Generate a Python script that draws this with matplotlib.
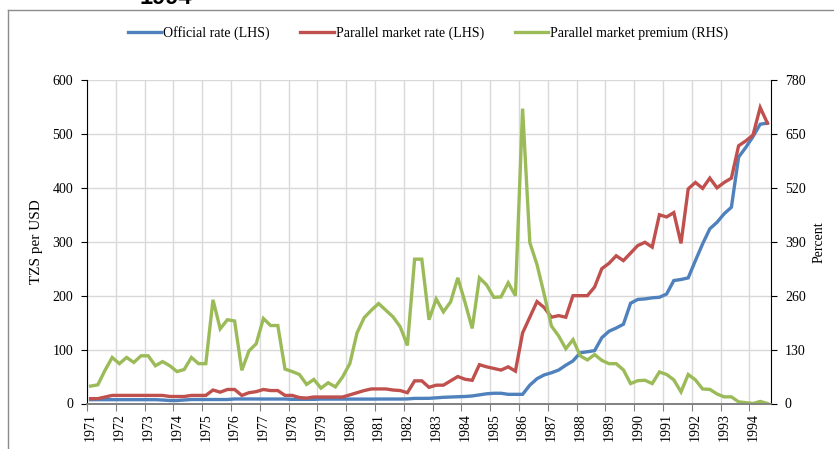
import matplotlib
matplotlib.use("Agg")
import matplotlib.pyplot as plt
from matplotlib.lines import Line2D
import numpy as np

# quarterly data, 1971Q1 - 1994Q3
years = list(range(1971, 1995))

official = [7.1, 7.1, 7.1, 7.1, 7.1, 7.1, 7.1, 7.1, 7.1, 7.1,
            6.5, 5.5, 5.5, 6.5, 7.4, 7.4, 7.4, 7.4, 7.4, 7.4,
            8.4, 8.4, 8.4, 8.4, 8.3, 8.3, 8.3, 8.3, 7.7, 7.7,
            7.7, 7.7, 8.2, 8.2, 8.2, 8.2, 8.2, 8.2, 8.2, 8.2,
            8.3, 8.3, 8.3, 8.3, 8.5, 9.5, 9.5, 9.6, 10.5, 11.5,
            12, 12.5, 13, 14, 16, 18, 19, 19, 17, 17,
            17, 34, 46, 53, 57, 62, 71, 79, 94, 96,
            98, 122, 134, 140, 147, 186, 193, 194, 196, 197,
            203, 228, 230, 233, 265, 296, 324, 336, 352, 364,
            457, 475, 495, 518, 520]

parallel = [9, 9, 12, 15, 15, 15, 15, 15, 15, 15,
            15, 13, 13, 13, 15, 15, 15, 25, 21, 26,
            26, 15, 20, 22, 26, 24, 24, 15, 15, 11,
            10, 12, 12, 12, 12, 12, 16, 20, 24, 27,
            27, 27, 25, 24, 20, 42, 42, 30, 34, 34,
            42, 50, 45, 43, 72, 68, 65, 62, 68, 60,
            131, 160, 189, 178, 160, 163, 160, 200, 200, 200,
            216, 250, 260, 274, 265, 279, 293, 299, 290, 350,
            346, 354, 297, 398, 410, 399, 418, 400, 410, 418,
            478, 487, 498, 549, 520]

premium = [42, 45, 80, 111, 96, 111, 99, 115, 115, 91,
           101, 91, 77, 82, 111, 96, 96, 250, 180, 202,
           199, 80, 127, 144, 205, 188, 188, 83, 77, 70,
           46, 58, 37, 50, 40, 64, 96, 170, 207, 225,
           241, 225, 209, 185, 140, 348, 348, 202, 252, 221,
           245, 303, 244, 181, 303, 286, 256, 257, 291, 260,
           711, 388, 335, 263, 187, 163, 132, 154, 115, 105,
           118, 104, 96, 96, 81, 48, 55, 56, 48, 76,
           70, 57, 28, 70, 57, 35, 34, 23, 16, 16,
           4, 2, 0, 5, 0]

plt.rcParams['font.family'] = ['Liberation Serif', 'DejaVu Serif']

blue = '#4F81BD'
red = '#C0504D'
green = '#9BBB59'

n = len(official)
x = np.arange(n) + 0.5

fig = plt.figure(figsize=(8.34, 4.49), dpi=100)
ax = fig.add_axes([87/834, 1 - 403.5/449, (771-87)/834, (403.5-80)/449])
ax2 = ax.twinx()

l1, = ax.plot(x, official, color=blue, linewidth=2.4, solid_joinstyle='miter')
l2, = ax.plot(x, parallel, color=red, linewidth=2.4, solid_joinstyle='miter')
l3, = ax2.plot(x, premium, color=green, linewidth=2.4, solid_joinstyle='miter')

ax.set_xlim(0, n)
ax.set_ylim(0, 600)
ax.set_yticks(np.arange(0, 601, 100))
ax2.set_ylim(0, 780)
ax2.set_yticks(np.arange(0, 781, 130))

# year gridlines every 4 quarters, labels centred on the first quarter
ax.set_xticks(np.arange(0, n, 4))
ax.set_xticklabels([])
ax.set_xticks(np.arange(0, n, 4) + 0.5, minor=True)
ax.set_xticklabels([str(y) for y in years], minor=True, rotation=90, fontsize=10)
ax.tick_params(axis='x', which='minor', length=0, pad=7)
ax.tick_params(axis='x', which='major', length=5, direction='out', color='#808080')

ax.grid(True, color='#d9d9d9', linewidth=1)
ax.set_axisbelow(True)

ax.tick_params(axis='y', length=4, direction='out', labelsize=10, pad=6)
ax2.tick_params(axis='y', length=4, direction='out', labelsize=10, pad=6)

for a in (ax, ax2):
    a.spines['top'].set_visible(False)
    a.spines['bottom'].set_color('#808080')
    a.spines['bottom'].set_linewidth(1.2)
ax2.spines['left'].set_visible(False)
ax.spines['right'].set_visible(False)

ax.set_ylabel('TZS per USD', fontsize=11, labelpad=7)
ax2.set_ylabel('Percent', fontsize=10, labelpad=5)

fig.legend([l1, l2, l3],
           ['Official rate (LHS)', 'Parallel market rate (LHS)',
            'Parallel market premium (RHS)'],
           loc='center', bbox_to_anchor=(428/834, 1 - 33.5/449), ncol=3,
           frameon=False, fontsize=10, handlelength=2.4, handletextpad=0.15,
           columnspacing=2.2)

# chart frame (only top and left edges are visible) and clipped title
fig.add_artist(Line2D([8/834, 1.0], [1 - 10/449, 1 - 10/449],
                      color='#8c8c8c', linewidth=1, transform=fig.transFigure))
fig.add_artist(Line2D([8/834, 8/834], [0, 1 - 10/449],
                      color='#8c8c8c', linewidth=1, transform=fig.transFigure))
fig.text(166/834, 1 - 4/449, '1994', ha='center', va='baseline',
         fontsize=17, fontweight='bold', family='Liberation Sans')

fig.savefig('out.png', dpi=100)
